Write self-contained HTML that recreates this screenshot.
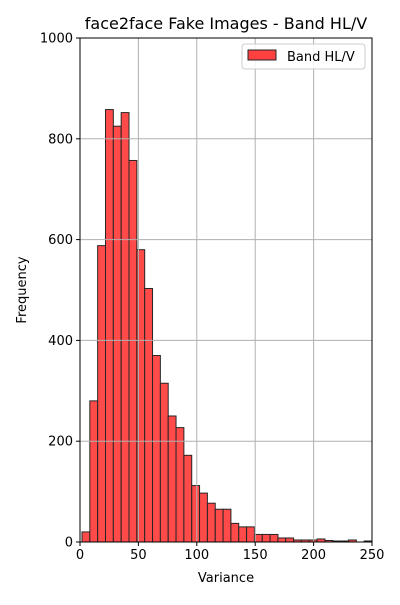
<!DOCTYPE html>
<html><head><meta charset="utf-8"><style>
body{margin:0;background:#fff;font-family:"Liberation Sans","DejaVu Sans",sans-serif}
</style></head><body>
<svg id="chart" width="400" height="600" xmlns="http://www.w3.org/2000/svg" font-family="DejaVu Sans, Liberation Sans, sans-serif">
<rect width="400" height="600" fill="#fff"/>
<g id="bars"></g><g id="grid"></g><g id="axes"></g>
</svg>
<script>
const counts=[20,280,588,858,825,852,757,580,503,370,315,250,227,172,112,97,77,65,65,37,30,30,15,15,15,8,8,4,4,4,6,3,2,2,4,0,2];
const binStart=1.7;
const binWidth=(250-1.7)/37;
const xTicks=[0,50,100,150,200,250];
const yTicks=[0,200,400,600,800,1000];
const L=80,R=372,T=38,B=542;
const X=v=>L+(v/250)*(R-L);
const Y=v=>B-(v/1000)*(B-T);
const NS="http://www.w3.org/2000/svg";
function mk(tag,attrs,parent){const e=document.createElementNS(NS,tag);for(const k in attrs)e.setAttribute(k,attrs[k]);parent.appendChild(e);return e;}
const svg=document.getElementById('chart');
const grid=document.getElementById('grid'),bars=document.getElementById('bars'),axes=document.getElementById('axes');
xTicks.forEach(t=>{const l=mk('line',{x1:X(t),x2:X(t),y1:T,y2:B,stroke:'#b0b0b0','stroke-width':1},grid);

});
yTicks.forEach(t=>{const l=mk('line',{x1:L,x2:R,y1:Y(t),y2:Y(t),stroke:'#b0b0b0','stroke-width':1},grid);

});
counts.forEach((c,i)=>{const x0=X(binStart+i*binWidth),x1=X(binStart+(i+1)*binWidth);
const r=mk('rect',{x:x0,y:Y(c),width:x1-x0,height:B-Y(c),fill:'#ff4040','fill-opacity':0.95,stroke:'#262626','stroke-width':1},bars);

});
const frame=mk('rect',{x:L,y:T,width:R-L,height:B-T,fill:'none',stroke:'#000','stroke-width':1},axes);


xTicks.forEach(t=>{mk('line',{x1:X(t),x2:X(t),y1:B,y2:B+4,stroke:'#000'},axes);
const tx=mk('text',{x:X(t),y:B+17,'text-anchor':'middle','font-size':13},axes);tx.textContent=t;

});
yTicks.forEach(t=>{mk('line',{x1:L-4,x2:L,y1:Y(t),y2:Y(t),stroke:'#000'},axes);
const tx=mk('text',{x:L-7,y:Y(t)+4.5,'text-anchor':'end','font-size':13},axes);tx.textContent=t;

});
</script>
<svg style="position:absolute;left:0;top:0" width="400" height="600" xmlns="http://www.w3.org/2000/svg" font-family="DejaVu Sans, Liberation Sans, sans-serif">
<text x="226" y="29" text-anchor="middle" font-size="16">face2face Fake Images - Band HL/V</text>
<text x="226" y="582" text-anchor="middle" font-size="13">Variance</text>
<text x="26" y="290" text-anchor="middle" font-size="13" transform="rotate(-90 26 290)">Frequency</text>
<g>
<rect x="242" y="44" width="123" height="25" rx="3" fill="#fff" fill-opacity="0.85" stroke="#ccc"/>
<rect x="248" y="50" width="28" height="10" fill="#ff4040" stroke="#262626"/>
<text x="287" y="61" font-size="13">Band HL/V</text>
</g>
</svg>
</body></html>
